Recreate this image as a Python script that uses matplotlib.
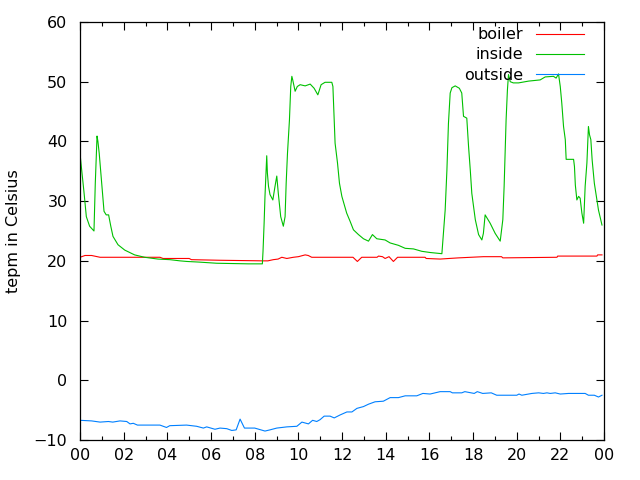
import numpy as np
import matplotlib
matplotlib.use("Agg")
import matplotlib.pyplot as plt
from matplotlib.ticker import MultipleLocator, FixedLocator, FixedFormatter

# readings (hour of day, degrees C)
boiler_hours = [0, 0.23, 0.53, 0.92, 3.66, 3.8, 5.0, 5.1, 6.4, 8.4, 8.6, 8.85, 9.07,
                9.24, 9.47, 9.77, 10.0, 10.31, 10.45, 10.61, 12.5, 12.7, 12.9, 13.6,
                13.67, 13.85, 13.97, 14.15, 14.35, 14.54, 15.8, 15.85, 16.49, 16.9,
                17.33, 18.47, 19.3, 19.36, 21.84, 21.87, 23.67, 23.7, 23.9]
boiler_temp = [20.6, 20.9, 20.9, 20.6, 20.6, 20.4, 20.4, 20.2, 20.1, 20.0, 20.0, 20.2,
               20.3, 20.6, 20.4, 20.6, 20.7, 21.0, 20.9, 20.6, 20.6, 19.9, 20.6, 20.6,
               20.8, 20.7, 20.4, 20.7, 19.9, 20.6, 20.6, 20.4, 20.3, 20.4, 20.5, 20.7,
               20.7, 20.5, 20.6, 20.8, 20.8, 21.0, 21.0]

inside_hours = [0, 0.06, 0.18, 0.29, 0.44, 0.64, 0.70, 0.78, 0.82, 0.88, 0.98, 1.10,
                1.2, 1.31, 1.41, 1.51, 1.74, 2.05, 2.5, 2.96, 3.57, 4.12, 4.58, 4.89,
                5.42, 6.26, 7.71, 8.35, 8.38, 8.43, 8.47, 8.52, 8.55, 8.58, 8.63, 8.7,
                8.83, 8.93, 9.01, 9.08, 9.19, 9.31, 9.39, 9.44, 9.5, 9.59, 9.65, 9.7,
                9.74, 9.85, 9.95, 10.08, 10.31, 10.54, 10.72, 10.89, 11.04, 11.22,
                11.53, 11.58, 11.64, 11.68, 11.79, 11.88, 11.99, 12.21, 12.37, 12.52,
                12.75, 12.98, 13.21, 13.39, 13.59, 13.97, 14.2, 14.58, 14.89, 15.27,
                15.65, 16.03, 16.57, 16.64, 16.72, 16.8, 16.87, 16.95, 17.03, 17.18,
                17.37, 17.48, 17.56, 17.71, 17.79, 17.87, 17.94, 18.1, 18.25, 18.4,
                18.47, 18.55, 18.78, 19.01, 19.24, 19.36, 19.42, 19.51, 19.57, 19.62,
                19.7, 19.84, 20.08, 20.54, 21.07, 21.3, 21.68, 21.8, 21.91, 21.99,
                22.06, 22.14, 22.22, 22.26, 22.6, 22.64, 22.68, 22.75, 22.83, 22.9,
                22.98, 23.06, 23.13, 23.21, 23.28, 23.33, 23.39, 23.45, 23.55, 23.74,
                23.9]
inside_temp = [38.0, 35.8, 31.6, 27.4, 25.8, 25.0, 33.0, 40.9, 40.0, 38.0, 33.6, 28.3,
               27.7, 27.7, 25.8, 24.1, 22.7, 21.8, 21.0, 20.6, 20.3, 20.2, 20.0, 19.9,
               19.8, 19.6, 19.5, 19.5, 21.6, 26.3, 30.8, 35.2, 37.6, 34.7, 32.5, 31.1,
               30.2, 32.5, 34.2, 31.3, 27.4, 25.8, 27.4, 33.0, 38.0, 43.6, 49.2, 50.9,
               50.3, 48.4, 49.2, 49.5, 49.3, 49.6, 48.9, 47.8, 49.5, 49.9, 49.9, 49.2,
               43.6, 39.7, 36.4, 33.0, 30.8, 28.0, 26.6, 25.2, 24.4, 23.7, 23.3, 24.4,
               23.7, 23.5, 23.0, 22.6, 22.1, 22.0, 21.6, 21.4, 21.2, 24.6, 28.5, 35.2,
               43.0, 48.1, 49.0, 49.3, 48.9, 48.1, 44.2, 43.9, 39.2, 35.2, 31.3, 26.9,
               24.4, 23.5, 24.6, 27.7, 26.3, 24.6, 23.3, 26.9, 32.5, 43.6, 48.6, 51.2,
               50.0, 49.8, 49.8, 50.1, 50.3, 50.8, 50.9, 50.6, 51.3, 49.2, 46.4, 42.5,
               40.3, 37.0, 37.0, 35.8, 32.7, 30.2, 30.8, 30.5, 28.0, 26.3, 32.5, 36.4,
               42.5, 41.1, 40.3, 36.9, 33.0, 28.5, 26.0]

outside_hours = [0, 0.53, 0.92, 1.3, 1.5, 1.83, 2.14, 2.29, 2.44, 2.63, 3.66, 3.96,
                 4.11, 4.88, 5.34, 5.65, 5.8, 6.18, 6.41, 6.72, 6.95, 7.15, 7.33, 7.53,
                 8.0, 8.47, 8.7, 9.01, 9.47, 9.93, 10.16, 10.46, 10.65, 10.84, 10.99,
                 11.18, 11.45, 11.64, 11.91, 12.22, 12.45, 12.68, 12.98, 13.21, 13.51,
                 13.89, 14.2, 14.58, 14.89, 15.42, 15.7, 16.03, 16.49, 16.95, 17.05,
                 17.48, 17.62, 18.05, 18.19, 18.44, 18.83, 19.08, 20.0, 20.1, 20.23,
                 20.69, 21.0, 21.22, 21.38, 21.53, 21.76, 21.99, 22.37, 23.13, 23.28,
                 23.55, 23.74, 23.9]
outside_temp = [-6.7, -6.8, -7.0, -6.9, -7.0, -6.8, -6.9, -7.3, -7.2, -7.5, -7.5, -7.9,
                -7.6, -7.5, -7.7, -8.0, -7.8, -8.2, -8.0, -8.1, -8.4, -8.3, -6.5, -8.0,
                -8.0, -8.5, -8.3, -8.0, -7.8, -7.7, -7.0, -7.3, -6.7, -6.9, -6.6, -6.0,
                -6.0, -6.3, -5.8, -5.3, -5.3, -4.7, -4.4, -4.0, -3.6, -3.5, -2.9, -2.9,
                -2.6, -2.6, -2.2, -2.3, -1.9, -1.9, -2.1, -2.1, -1.9, -2.2, -1.9, -2.2,
                -2.1, -2.5, -2.5, -2.3, -2.5, -2.2, -2.1, -2.2, -2.1, -2.2, -2.1, -2.3,
                -2.2, -2.2, -2.5, -2.5, -2.8, -2.5]

hour_ticks = list(range(0, 25, 2))
hour_labels = ["%02d" % (h % 24) for h in hour_ticks]

plt.rcParams['font.family'] = ['DejaVu Sans']
fig = plt.figure(figsize=(6.4, 4.8), dpi=100)
ax = fig.add_axes([0.125, 0.0833, 0.819, 0.8709])

lw = 0.8
ax.plot(boiler_hours, boiler_temp, color='#ff0000', lw=lw, label='boiler')
ax.plot(inside_hours, inside_temp, color='#00c000', lw=lw, label='inside')
ax.plot(outside_hours, outside_temp, color='#0080ff', lw=lw, label='outside')

ax.set_xlim(0, 24)
ax.set_ylim(-10, 60)
ax.xaxis.set_major_locator(FixedLocator(hour_ticks))
ax.xaxis.set_major_formatter(FixedFormatter(hour_labels))
ax.xaxis.set_minor_locator(MultipleLocator(1))
ax.yaxis.set_major_locator(MultipleLocator(10))

ax.tick_params(which='both', direction='in', top=True, right=True, width=0.8,
               labelsize=11.5, colors='black')
ax.tick_params(which='major', length=6)
ax.tick_params(which='minor', length=3)
ax.tick_params(axis='y', pad=9)
ax.tick_params(axis='x', pad=6)
for s in ax.spines.values():
    s.set_linewidth(0.9)

ax.set_ylabel('tepm in Celsius', fontsize=11.5, labelpad=9)

leg = ax.legend(loc='upper right', bbox_to_anchor=(0.974, 1.003), frameon=False,
                markerfirst=False, fontsize=11.5, handlelength=3.0,
                handletextpad=0.8, labelspacing=0.33, borderaxespad=0)

fig.savefig('out.png', dpi=100)
